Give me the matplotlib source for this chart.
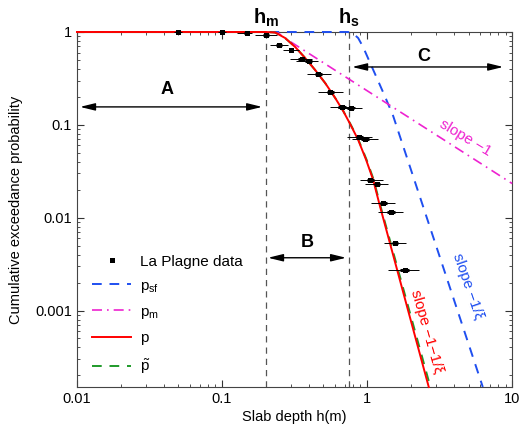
import numpy as np
import matplotlib
matplotlib.use("Agg")
from matplotlib import pyplot as plt
from matplotlib.lines import Line2D
from matplotlib.ticker import FixedLocator, FuncFormatter, LogLocator, NullFormatter

plt.rcParams['font.family'] = ['Liberation Sans', 'DejaVu Sans']
plt.rcParams['mathtext.fontset'] = 'custom'
plt.rcParams['mathtext.rm'] = 'Liberation Sans'
plt.rcParams['mathtext.it'] = 'Liberation Sans:italic'
plt.rcParams['mathtext.bf'] = 'Liberation Sans:bold'

# La Plagne data (depth in m, exceedance probability, error bar ends)
depth = np.array([0.05, 0.10, 0.149, 0.201, 0.247, 0.299, 0.356, 0.398, 0.459, 0.556,
                  0.672, 0.776, 0.881, 0.969, 1.049, 1.172, 1.289, 1.464, 1.560, 1.828])
prob = np.array([1.0, 1.0, 0.98, 0.928, 0.725, 0.64, 0.51, 0.488, 0.354, 0.226,
                 0.156, 0.153, 0.0738, 0.070, 0.0253, 0.0229, 0.0143, 0.0115, 0.0054, 0.0027])
depth_lo = np.array([0.0467, 0.0938, 0.127, 0.169, 0.214, 0.263, 0.294, 0.324, 0.386, 0.459,
                     0.556, 0.631, 0.728, 0.788, 0.895, 0.969, 1.066, 1.191, 1.31, 1.396])
depth_hi = np.array([0.053, 0.1066, 0.161, 0.239, 0.285, 0.340, 0.417, 0.459, 0.565, 0.683,
                     0.826, 0.924, 1.083, 1.191, 1.289, 1.396, 1.56, 1.771, 1.858, 2.284])

# model curves
h_sf = [0.01, 0.740, 0.80, 0.867, 0.938, 1.049, 1.191, 1.331, 1.511, 6.27]
p_sf = [1.0, 1.0, 0.963, 0.862, 0.690, 0.464, 0.297, 0.200, 0.125, 1.5e-4]

h_m_curve = [0.01, 0.22, 0.245, 0.28, 10.0]
p_m_curve = [1.0, 1.0, 0.97, 0.832, 0.0233]

h_p = [0.01, 0.198, 0.232, 0.272, 0.319, 0.374, 0.438, 0.513, 0.602, 0.683,
       0.763, 0.867, 0.984, 1.10, 1.229, 2.66]
p_p = [1.0, 1.0, 0.988, 0.862, 0.690, 0.525, 0.390, 0.283, 0.195, 0.1414,
       0.1025, 0.069, 0.042, 0.0256, 0.0131, 1.5e-4]

h_pt = [0.01, 0.198, 0.232, 0.272, 0.319, 0.374, 0.438, 0.513, 0.602, 0.684,
        0.766, 0.872, 0.992, 1.11, 1.24, 2.73]
p_pt = [1.0, 1.0, 0.988, 0.862, 0.690, 0.525, 0.390, 0.283, 0.195, 0.1414,
        0.1025, 0.069, 0.042, 0.0256, 0.0131, 1.5e-4]

h_m = 0.2
h_s = 0.75

blue = '#1f4ff0'
magenta = '#ee22d0'
red = '#ff0000'
green = '#1f9a2a'

fig = plt.figure(figsize=(5.2, 4.3), dpi=100)
ax = fig.add_axes([0.148, 0.1, 0.837, 0.8256])

ax.plot(h_sf, p_sf, color=blue, lw=1.4, dashes=(5, 4), clip_on=False, zorder=3)
ax.plot(h_m_curve, p_m_curve, color=magenta, lw=1.2, dashes=(6, 3, 1, 3), clip_on=False, zorder=3)
ax.plot(h_pt, p_pt, color=green, lw=1.4, dashes=(5, 4), clip_on=False, zorder=3)
ax.plot(h_p, p_p, color=red, lw=1.4, clip_on=False, zorder=3)

for h in (h_m, h_s):
    ax.axvline(h, color='#555555', lw=0.9, dashes=(5, 4))

# data with error bars (thin outer, thick inner)
eb1 = ax.errorbar(depth, prob, xerr=[depth - depth_lo, depth_hi - depth], fmt='none',
                  ecolor='k', elinewidth=0.7, capsize=0, zorder=4)
in_lo = depth * (depth_lo / depth) ** 0.3
in_hi = depth * (depth_hi / depth) ** 0.3
eb2 = ax.errorbar(depth, prob, xerr=[depth - in_lo, in_hi - depth], fmt='none',
                  ecolor='k', elinewidth=2.2, capsize=0, zorder=4)
for eb in (eb1, eb2):
    for c in eb[2]:
        c.set_clip_on(False)
ax.plot(depth, prob, 's', color='k', ms=3.6, mew=0, clip_on=False, zorder=5)

ax.set_xscale('log')
ax.set_yscale('log')
ax.set_xlim(0.01, 10)
ax.set_ylim(1.5e-4, 1)

ax.xaxis.set_major_locator(FixedLocator([0.01, 0.1, 1, 10]))
ax.yaxis.set_major_locator(FixedLocator([0.001, 0.01, 0.1, 1]))
ax.xaxis.set_major_formatter(FuncFormatter(lambda v, p: '%g' % v))
ax.yaxis.set_major_formatter(FuncFormatter(lambda v, p: '%g' % v))
ax.xaxis.set_minor_locator(LogLocator(base=10, subs=np.arange(2, 10)))
ax.yaxis.set_minor_locator(LogLocator(base=10, subs=np.arange(2, 10)))
ax.xaxis.set_minor_formatter(NullFormatter())
ax.yaxis.set_minor_formatter(NullFormatter())
ax.tick_params(which='both', direction='in', top=True, right=True, colors='#333333',
               labelcolor='k', labelsize=10.5)
ax.tick_params(which='major', length=5)
ax.tick_params(which='minor', length=2.5)
for s in ax.spines.values():
    s.set_color('#444444')
    s.set_linewidth(0.8)

ax.set_xlabel('Slab depth h(m)', fontsize=10.5, labelpad=3)
ax.set_ylabel('Cumulative exceedance probability', fontsize=10.5, labelpad=9)

# region arrows
arrow = dict(arrowstyle='<|-|>,head_width=0.22,head_length=0.9', color='k', lw=1.0,
             shrinkA=0, shrinkB=0)
ax.annotate('', xy=(0.0105, 0.156), xytext=(0.189, 0.156), arrowprops=arrow)
ax.annotate('', xy=(0.2075, 0.0037), xytext=(0.716, 0.0037), arrowprops=arrow)
ax.annotate('', xy=(0.788, 0.42), xytext=(8.67, 0.42), arrowprops=arrow)
ax.text(0.0418, 0.238, 'A', fontsize=13, fontweight='bold', ha='center', va='center')
ax.text(0.386, 0.0054, 'B', fontsize=13, fontweight='bold', ha='center', va='center')
ax.text(2.47, 0.538, 'C', fontsize=13, fontweight='bold', ha='center', va='center')

ax.text(h_m, 1.09, r'$\mathbf{h_m}$', fontsize=14.5, ha='center', va='bottom', clip_on=False)
ax.text(h_s, 1.09, r'$\mathbf{h_s}$', fontsize=14.5, ha='center', va='bottom', clip_on=False)

ax.text(4.74, 0.0724, 'slope \u22121', color=magenta, fontsize=11, rotation=-31,
        ha='center', va='center')
ax.text(4.98, 0.00181, 'slope \u22121/\u03be', color=blue, fontsize=11, rotation=-71,
        ha='center', va='center')
ax.text(2.59, 5.95e-4, 'slope \u22121\u22121/\u03be', color=red, fontsize=11, rotation=-74,
        ha='center', va='center')

handles = [
    Line2D([], [], ls='none', marker='s', color='k', ms=3.6, mew=0),
    Line2D([], [], color=blue, lw=1.4, dashes=(5, 4)),
    Line2D([], [], color=magenta, lw=1.2, dashes=(6, 3, 1, 3)),
    Line2D([], [], color=red, lw=1.4),
    Line2D([], [], color=green, lw=1.4, dashes=(5, 4)),
]
labels = ['La Plagne data', r'$\mathrm{p_{sf}}$', r'$\mathrm{p_m}$', r'$\mathrm{p}$',
          r'$\tilde{\mathrm{p}}$']
ax.legend(handles, labels, loc='upper left', bbox_to_anchor=(0.02, 0.39), frameon=False,
          fontsize=11, handlelength=2.6, handletextpad=0.55, labelspacing=0.66,
          borderaxespad=0)

fig.savefig('out.png', dpi=100)
